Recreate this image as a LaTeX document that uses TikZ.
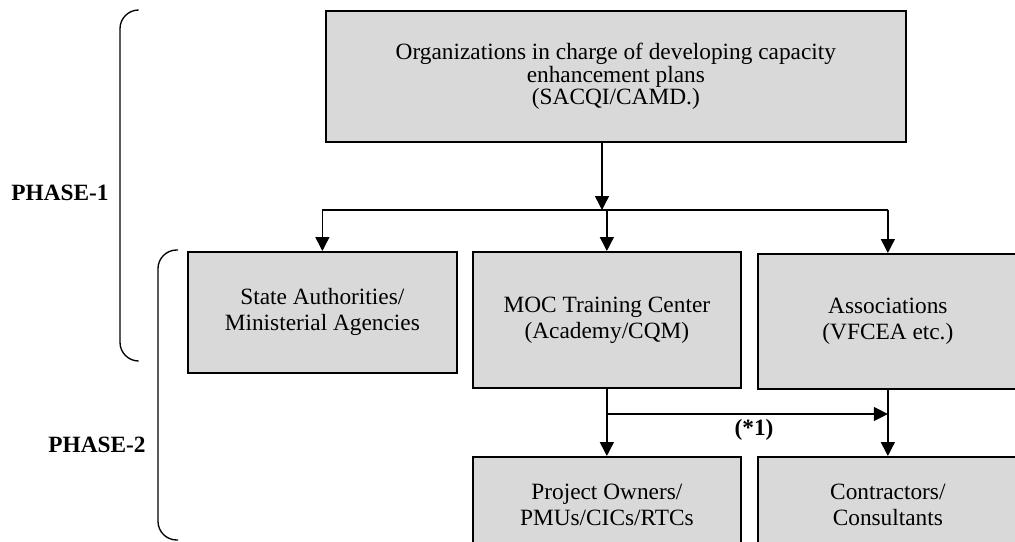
\documentclass[tikz,border=0pt]{standalone}
\usepackage{fontspec}
\setmainfont{Liberation Serif}
\usepackage{tikz}
\usetikzlibrary{arrows.meta}
\usetikzlibrary{positioning}
\definecolor{boxgray}{RGB}{217,217,217}

\begin{document}
\begin{tikzpicture}[
            x = 0.75pt, y = -0.75pt, % one unit per pixel, y down
            > = {Triangle[length=10.5pt, width=10.5pt]}, % arrow head style
            line width = 1.1pt,
            font = \fontsize{17.5pt}{19.5pt}\selectfont
        ]

        \tikzstyle{box}=[
            draw,
            line width = 1.3pt,
            fill = boxgray,
            align = center,
            anchor = north west,
            inner sep = 0pt
        ]
        \tikzstyle{phase}=[
            font = \fontsize{17.5pt}{19pt}\selectfont\bfseries
        ]

        \useasboundingbox (0,0) rectangle (1015,542);
        \clip (0,0) rectangle (1015,542);

	% phase 1
        \node[box, minimum width=435pt, minimum height=98.25pt,
              font=\fontsize{17.5pt}{17pt}\selectfont] (top) at (325,10)
            {Organizations in charge of developing capacity\\ enhancement plans\\ (SACQI/CAMD.)};

        \node[box, minimum width=201.75pt, minimum height=90.75pt] (state) at (187,251)
            {State Authorities/\\ Ministerial Agencies};
        \node[box, minimum width=201pt, minimum height=102pt] (moc) at (472,251)
            {MOC Training Center\\ (Academy/CQM)};
        \node[box, minimum width=195pt, minimum height=101.25pt] (assoc) at (757,253)
            {Associations\\ (VFCEA etc.)};

        \coordinate (bus) at (602,210);
        \draw[->] (top.south -| bus) -- (bus);
        \draw (bus -| state) -- (bus -| assoc);
        \draw[->] (bus -| state) -- (state.north);
        \draw[->] (bus -| moc) -- (moc.north);
        \draw[->] (bus -| assoc) -- (assoc.north);

	% phase 2
        \node[box, minimum width=201pt, minimum height=72pt] (owners) at (472,456)
            {Project Owners/\\ PMUs/CICs/RTCs};
        \node[box, minimum width=195pt, minimum height=72pt] (contr) at (757,456)
            {Contractors/\\ Consultants};

        \coordinate (link) at (0,414);
        \draw[->] (moc) -- (owners);
        \draw[->] (assoc) -- (contr);
        \draw[->] (moc.south |- link) -- (assoc.south |- link)
            node[phase, midway, below=0pt, xshift=5pt] {(*1)};

         % phase brackets
         \node[phase] (p1) at (60,193) {PHASE-1};
         \node[phase] (p2) at (97,445) {PHASE-2};
         \draw[line width=1pt, rounded corners=14] (137,10) -- (120,10) -- (120,361) -- (137,361);
         \draw[line width=1pt, rounded corners=14] (178,250) -- (158,250) -- (158,540) -- (178,540);

  \end{tikzpicture}
\end{document}
